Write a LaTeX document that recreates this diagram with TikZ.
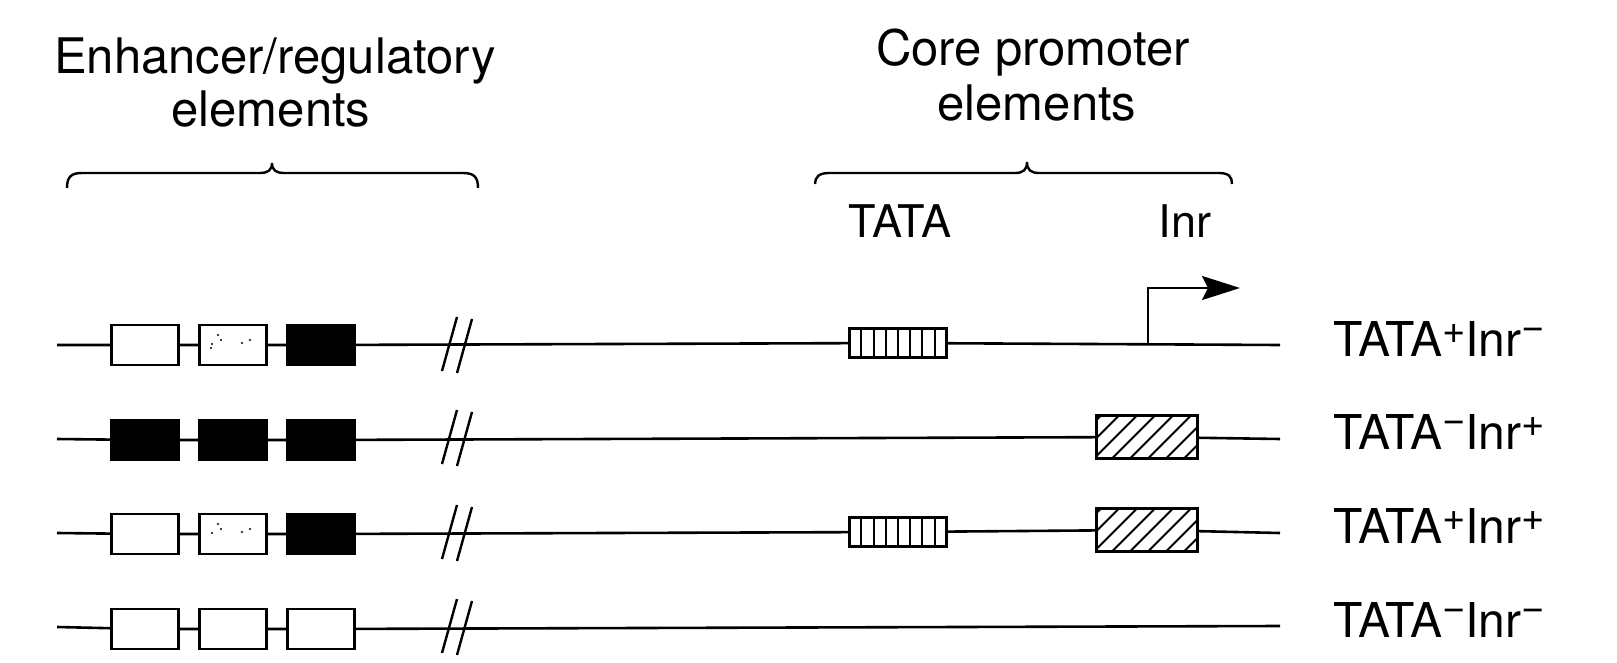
\documentclass[tikz,border=0pt]{standalone}
\usepackage{fontspec}
\setmainfont{TeX Gyre Heros}
\usetikzlibrary{arrows.meta}
\newcommand\supplus{\raisebox{13pt}{\fontsize{40}{40}\selectfont +}}
\newcommand\supminus{\raisebox{17pt}{\fontsize{40}{40}\selectfont\char"2212}}
\begin{document}
\begin{tikzpicture}[x=1pt,y=-1pt,
  dna/.style={line width=2.6pt},
  ebox/.style={draw, line width=2.8pt, minimum width=67pt, minimum height=40pt, inner sep=0pt, fill=white},
  bbox/.style={ebox, fill=black},
  tatabox/.style={draw, line width=2.6pt, minimum width=97.5pt, minimum height=28.5pt, inner sep=0pt, fill=white,
    path picture={\foreach \s in {12.2,24.4,...,85.4} \draw[line width=2pt] ([xshift=\s pt]path picture bounding box.south west) -- ++(0pt,30pt);}},
  inrbox/.style={draw, line width=2.6pt, minimum width=101.5pt, minimum height=42.5pt, inner sep=0pt, fill=white,
    path picture={\foreach \s in {-38,-20,...,100} \draw[line width=2pt] ([xshift=\s pt]path picture bounding box.south west) -- ++(46pt,46pt);}},
  brk/.style={line width=2.4pt},
  brace/.style={line width=2.4pt},
  lab/.style={font=\fontsize{48}{48}\selectfont, inner sep=0pt, anchor=base west},
  hdr/.style={font=\fontsize{49}{49}\selectfont, inner sep=0pt, anchor=base},
  elab/.style={font=\fontsize{45}{45}\selectfont, inner sep=0pt, anchor=base}
]
\useasboundingbox (0,0) rectangle (1617,663);

% headers
\node[hdr] (enh1) at (275,74) {Enhancer/regulatory};
\node[hdr] (enh2) at (271,127) {elements};
\node[hdr] (core1) at (1033,66) {Core promoter};
\node[hdr] (core2) at (1037,121) {elements};

% braces
\draw[brace] (67,188) .. controls (67,177) and (71,173) .. (82,173) -- (260,173)
  .. controls (268,173) and (272,170) .. (272,163)
  .. controls (272,170) and (276,173) .. (284,173) -- (463,173)
  .. controls (474,173) and (478,177) .. (478,188);
\draw[brace] (815,184) .. controls (815,177) and (819,173) .. (829,173) -- (1015,173)
  .. controls (1023,173) and (1027,170) .. (1027,162)
  .. controls (1027,170) and (1031,173) .. (1039,173) -- (1219,173)
  .. controls (1229,173) and (1232,177) .. (1232,184);

% element labels
\node[elab] (tata) at (900,237) {TATA};
\node[elab] (inr) at (1185,237) {Inr};

% ---------- row 1 ----------
\coordinate (r1L) at (57,345);
\coordinate (r1R) at (1280,345);
\node[ebox] (r1a) at (145,345) {};
\node[ebox] (r1b) at (233,345) {};
\node[bbox] (r1c) at (321,345) {};
\node[tatabox] (r1t) at (898,343) {};
\draw[dna] (r1L) -- (r1a) -- (r1b) -- (r1c) -- (r1t) -- (r1R);
\foreach \p in {(218,335),(221,340),(212,344),(242,343),(250,340),(211,348)} \fill \p circle (1.2pt);
\draw[brk] (457,317) -- (442,371);
\draw[brk] (472,319) -- (457,373);
\coordinate (tss) at (1148,345);
\coordinate (tssup) at (1148,288);
\coordinate (tssend) at (1240,288);
\draw[dna, -{Stealth[length=38pt,width=24pt,inset=6pt]}] (tss) -- (tssup) -- (tssend);
\node[lab] (l1) at (1333,356) {TATA\supplus Inr\supminus};

% ---------- row 2 ----------
\coordinate (r2L) at (57,439);
\coordinate (r2R) at (1280,439);
\node[bbox] (r2a) at (145,440) {};
\node[bbox] (r2b) at (233,440) {};
\node[bbox] (r2c) at (321,440) {};
\node[inrbox] (r2i) at (1147,437) {};
\draw[dna] (r2L) -- (r2a) -- (r2b) -- (r2c) -- (r2i) -- (r2R);
\draw[brk] (457,410) -- (442,464);
\draw[brk] (472,412) -- (457,466);
\node[lab] (l2) at (1333,449) {TATA\supminus Inr\supplus};

% ---------- row 3 ----------
\coordinate (r3L) at (57,533);
\coordinate (r3R) at (1280,533);
\node[ebox] (r3a) at (145,534) {};
\node[ebox] (r3b) at (233,534) {};
\node[bbox] (r3c) at (321,534) {};
\node[tatabox] (r3t) at (898,532) {};
\node[inrbox] (r3i) at (1147,530) {};
\draw[dna] (r3L) -- (r3a) -- (r3b) -- (r3c) -- (r3t) -- (r3i) -- (r3R);
\foreach \p in {(218,524),(221,529),(212,533),(242,532),(250,529)} \fill \p circle (1.2pt);
\draw[brk] (457,505) -- (442,559);
\draw[brk] (472,507) -- (457,561);
\node[lab] (l3) at (1333,543) {TATA\supplus Inr\supplus};

% ---------- row 4 ----------
\coordinate (r4L) at (57,627);
\coordinate (r4R) at (1280,626);
\node[ebox] (r4a) at (145,629) {};
\node[ebox] (r4b) at (233,629) {};
\node[ebox] (r4c) at (321,629) {};
\draw[dna] (r4L) -- (r4a) -- (r4b) -- (r4c) -- (r4R);
\draw[brk] (457,599) -- (442,653);
\draw[brk] (472,601) -- (457,655);
\node[lab] (l4) at (1333,637) {TATA\supminus Inr\supminus};

\end{tikzpicture}
\end{document}
